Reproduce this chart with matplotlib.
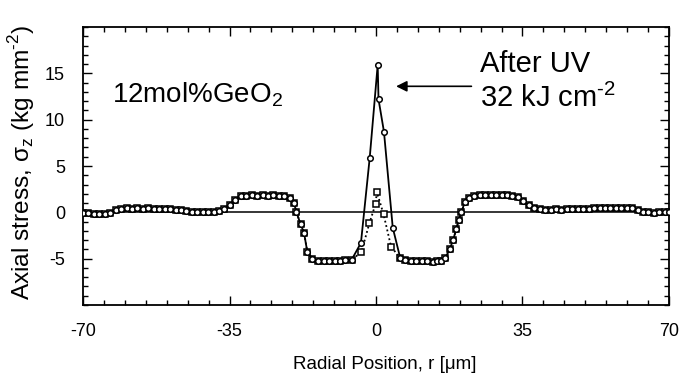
import matplotlib
matplotlib.use("Agg")
import matplotlib.pyplot as plt
from matplotlib.ticker import MultipleLocator

plt.rcParams['font.family'] = ['Liberation Sans', 'DejaVu Sans']
plt.rcParams['mathtext.fontset'] = 'custom'
plt.rcParams['mathtext.rm'] = 'Liberation Sans'

# Outer profile (shared by both measurements)
left_r = [-70.0, -68.7, -67.4, -66.1, -64.8, -63.5, -62.2, -60.9, -59.6, -58.3,
          -57.0, -55.7, -54.4, -53.1, -51.8, -50.5, -49.2, -47.9, -46.6, -45.3,
          -44.0, -42.7, -41.4, -40.1, -38.8, -37.5, -36.2, -34.9, -33.6, -32.3,
          -31.0, -29.7, -28.4, -27.1, -25.8, -24.5, -23.2, -21.9, -20.6, -19.6,
          -19.0, -18.0, -17.2, -16.4, -15.2, -13.8, -12.5, -11.2, -9.9, -8.6,
          -7.3, -5.8]
left_s = [-0.05, -0.1, -0.2, -0.2, -0.15, -0.1, 0.3, 0.4, 0.45, 0.4,
          0.45, 0.4, 0.45, 0.4, 0.35, 0.4, 0.35, 0.3, 0.25, 0.1,
          0.05, 0.0, 0.05, 0.0, 0.05, 0.1, 0.4, 0.8, 1.3, 1.75,
          1.8, 1.85, 1.8, 1.85, 1.8, 1.85, 1.8, 1.75, 1.5, 1.0,
          0.0, -1.3, -2.2, -4.3, -5.0, -5.3, -5.25, -5.2, -5.25, -5.2,
          -5.15, -5.1]
right_r = [5.8, 7.0, 8.3, 9.6, 10.9, 12.2, 13.5, 14.6, 15.6, 16.6,
           17.6, 18.4, 19.2, 19.8, 20.4, 21.2, 22.2, 23.5, 24.8, 26.1,
           27.4, 28.7, 30.0, 31.3, 32.6, 33.9, 35.2, 36.5, 37.8, 39.1,
           40.4, 41.7, 43.0, 44.3, 45.6, 46.9, 48.2, 49.5, 50.8, 52.1,
           53.4, 54.7, 56.0, 57.3, 58.6, 59.9, 61.2, 62.5, 63.8, 65.1,
           66.4, 67.7, 69.0, 70.0]
right_s = [-4.95, -5.1, -5.2, -5.2, -5.2, -5.3, -5.4, -5.3, -5.2, -4.9,
           -4.0, -3.0, -1.8, -0.8, 0.0, 1.1, 1.6, 1.8, 1.85, 1.85,
           1.9, 1.85, 1.85, 1.85, 1.8, 1.65, 1.2, 0.8, 0.45, 0.35,
           0.3, 0.3, 0.35, 0.3, 0.35, 0.4, 0.35, 0.4, 0.4, 0.45,
           0.5, 0.5, 0.5, 0.5, 0.5, 0.45, 0.45, 0.3, 0.05, 0.0,
           -0.05, 0.0, 0.0, 0.05]

# Core region: after UV (circles, solid) and before (squares, dotted)
uv_core_r = [-3.6, -1.5, 0.4, 0.6, 1.9, 4.0]
uv_core_s = [-3.3, 5.9, 15.9, 12.2, 8.7, -1.65]
pre_core_r = [-3.5, -1.6, -0.1, 0.2, 1.8, 3.6]
pre_core_s = [-4.3, -1.2, 0.9, 2.2, -0.2, -3.7]

uv_r = left_r + uv_core_r + right_r
uv_s = left_s + uv_core_s + right_s
pre_r = left_r + pre_core_r + right_r
pre_s = left_s + pre_core_s + right_s

x_ticks = [-70, -35, 0, 35, 70]
y_ticks = [-5, 0, 5, 10, 15]

fig = plt.figure(figsize=(6.8, 3.84), dpi=100)
ax = fig.add_axes([0.1221, 0.2057, 0.8617, 0.724])

ax.axhline(0, color='black', lw=1.1, zorder=1)
ax.plot(pre_r, pre_s, color='black', lw=1.3, ls=(0, (1, 1.5)), marker='s',
        ms=4.0, mfc='white', mec='black', mew=1.1, zorder=2)
ax.plot(uv_r, uv_s, color='black', lw=1.3, ls='-', marker='o',
        ms=4.0, mfc='white', mec='black', mew=1.1, zorder=3)

ax.set_xlim(-70, 70)
ax.set_ylim(-10, 20)
ax.set_xticks(x_ticks)
ax.set_xticklabels([str(v) for v in x_ticks])
ax.set_yticks(y_ticks)
ax.set_yticklabels([str(v) for v in y_ticks])
ax.xaxis.set_minor_locator(MultipleLocator(5))
ax.yaxis.set_minor_locator(MultipleLocator(1))
ax.tick_params(which='both', direction='in', top=True, right=True, width=1.0)
ax.tick_params(which='major', length=6.5, labelsize=13, pad=13)
ax.tick_params(which='minor', length=3.3)
for sp in ax.spines.values():
    sp.set_linewidth(1.3)

ax.set_ylabel('Axial stress, σ$_\\mathregular{z}$ (kg mm$^\\text{-2}$)',
              fontsize=17.6)
ax.yaxis.set_label_coords(-0.079, 0.515)
ax.set_xlabel('Radial Position, r [μm]', fontsize=13.5)
ax.xaxis.set_label_coords(0.515, -0.185)

ax.text(0.049, 0.73, '12mol%GeO$_\\mathregular{2}$', transform=ax.transAxes,
        fontsize=20, va='baseline', ha='left')
ax.text(0.677, 0.838, 'After UV', transform=ax.transAxes,
        fontsize=21, va='baseline', ha='left')
ax.text(0.677, 0.712, '32 kJ cm$^\\text{-2}$', transform=ax.transAxes,
        fontsize=21, va='baseline', ha='left')
ax.annotate('', xy=(4.8, 13.6), xytext=(22.8, 13.6),
            arrowprops=dict(arrowstyle='-|>', mutation_scale=16, lw=1.2,
                            color='black', shrinkA=0, shrinkB=0))

fig.savefig('out.png', dpi=100)
